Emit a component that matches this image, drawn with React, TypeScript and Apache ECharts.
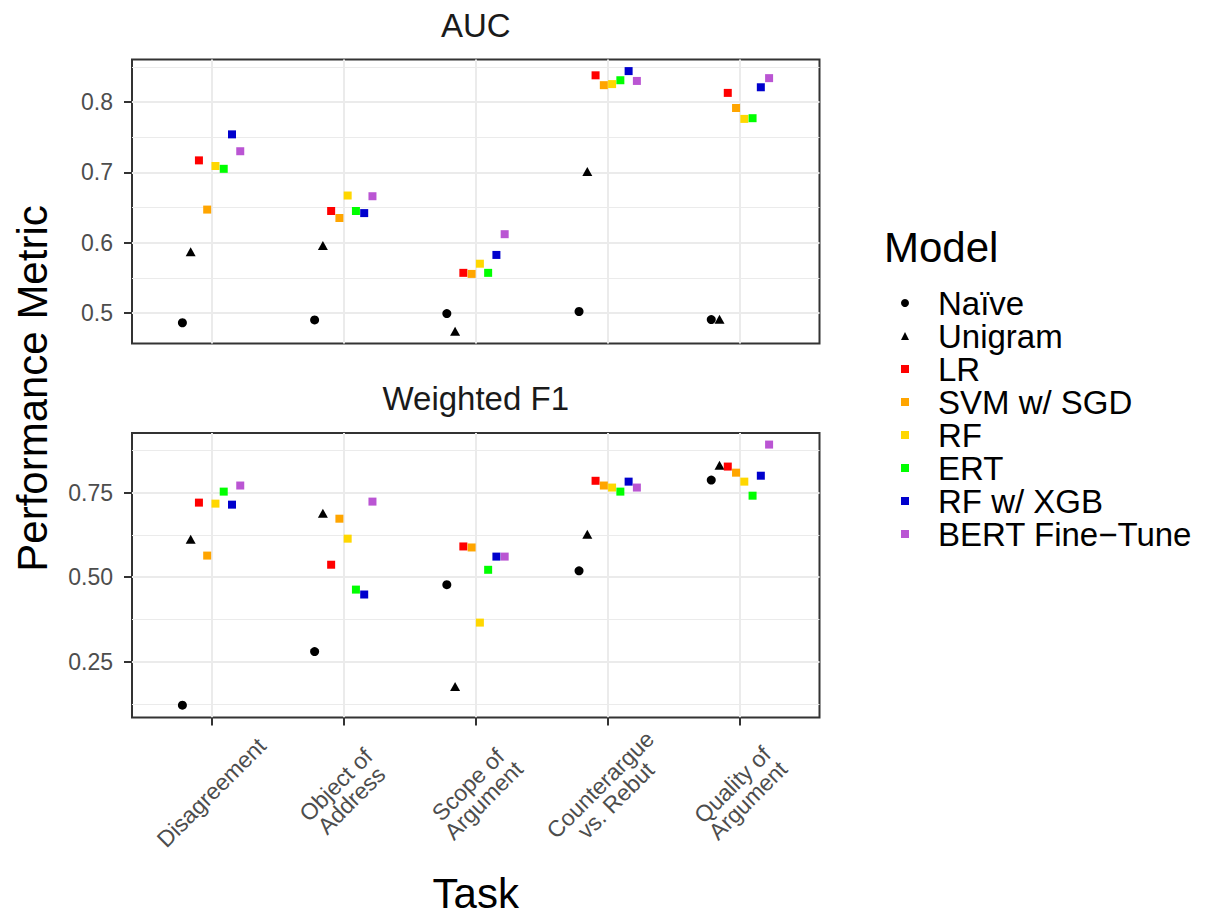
import React, { useEffect, useRef } from "react";
import * as echarts from "echarts";

// ---------- data ----------
const TASKS = [
  "Disagreement",
  "Object of\nAddress",
  "Scope of\nArgument",
  "Counterargue\nvs. Rebut",
  "Quality of\nArgument",
];
const MODELS = ["Naïve", "Unigram", "LR", "SVM w/ SGD", "RF", "ERT", "RF w/ XGB", "BERT Fine−Tune"];
const MODEL_COLORS = ["#000000", "#000000", "#FF0000", "#FFA500", "#FFD700", "#00FF00", "#0000CD", "#BA55D3"];
const MODEL_SYMBOLS = ["circle", "triangle", "rect", "rect", "rect", "rect", "rect", "rect"];

// AUC, one value per task (task order above)
const AUC_NAIVE = [0.486, 0.49, 0.499, 0.502, 0.4905];
const AUC_UNIGRAM = [0.587, 0.596, 0.474, 0.701, 0.491];
const AUC_LR = [0.717, 0.645, 0.557, 0.838, 0.813];
const AUC_SVM = [0.647, 0.635, 0.5555, 0.824, 0.7915];
const AUC_RF = [0.709, 0.667, 0.57, 0.8255, 0.776];
const AUC_ERT = [0.705, 0.645, 0.557, 0.831, 0.777];
const AUC_XGB = [0.754, 0.642, 0.5825, 0.844, 0.821];
const AUC_BERT = [0.73, 0.666, 0.612, 0.83, 0.834];

// Weighted F1, one value per task
const F1_NAIVE = [0.122, 0.2805, 0.478, 0.519, 0.787];
const F1_UNIGRAM = [0.612, 0.689, 0.177, 0.627, 0.831];
const F1_LR = [0.7205, 0.537, 0.591, 0.785, 0.827];
const F1_SVM = [0.564, 0.673, 0.588, 0.771, 0.809];
const F1_RF = [0.7175, 0.614, 0.366, 0.765, 0.7825];
const F1_ERT = [0.753, 0.4635, 0.522, 0.753, 0.741];
const F1_XGB = [0.7145, 0.449, 0.561, 0.7825, 0.8];
const F1_BERT = [0.771, 0.7235, 0.561, 0.765, 0.892];

const AUC_BY_MODEL = [AUC_NAIVE, AUC_UNIGRAM, AUC_LR, AUC_SVM, AUC_RF, AUC_ERT, AUC_XGB, AUC_BERT];
const F1_BY_MODEL = [F1_NAIVE, F1_UNIGRAM, F1_LR, F1_SVM, F1_RF, F1_ERT, F1_XGB, F1_BERT];

const AUC_TICKS = [0.5, 0.6, 0.7, 0.8];
const AUC_MINOR = [0.55, 0.65, 0.75, 0.85];
const F1_TICKS = [0.25, 0.5, 0.75];
const F1_MINOR = [0.125, 0.375, 0.625, 0.875];
const AUC_RANGE = [0.4565, 0.8605];
const F1_RANGE = [0.0856, 0.9262];
const X_RANGE = [0.4, 5.6];
const X_TICKS = [1, 2, 3, 4, 5];

const PANEL_TITLES = ["AUC", "Weighted F1"];
const X_TITLE = "Task";
const Y_TITLE = "Performance Metric";
const LEGEND_TITLE = "Model";

// ---------- style ----------
const FONT = "'Liberation Sans', Arial, Helvetica, sans-serif";
const DODGE_WIDTH = 0.5;
const TICK_FS = 23;
const TICK_LH = 22;
const LEGEND_FS = 33;
const GRID_COLOR = "#EBEBEB";
const BORDER_COLOR = "#333333";
const SYMBOL_SIZES: any[] = [9, [10, 9], 8, 8, 8, 8, 8, 8];

const GRIDS = [
  { left: 132, top: 59.5, width: 687.5, height: 284 },
  { left: 132, top: 433, width: 687.5, height: 284.5 },
];

function mainY(gridIndex: number, range: number[], ticks: number[], digits: number) {
  return {
    type: "value",
    gridIndex,
    min: range[0],
    max: range[1],
    position: "left",
    axisLine: { show: false },
    axisTick: { show: true, length: 8, lineStyle: { color: BORDER_COLOR, width: 2 }, customValues: ticks },
    axisLabel: {
      show: true,
      customValues: ticks,
      formatter: (v: number) => v.toFixed(digits),
      color: "#4D4D4D",
      fontSize: TICK_FS,
      fontFamily: FONT,
      margin: 19,
    },
    splitLine: { show: true, lineStyle: { color: GRID_COLOR, width: 2 } },
  };
}

function minorY(gridIndex: number, range: number[], ticks: number[]) {
  return {
    type: "value",
    gridIndex,
    min: range[0],
    max: range[1],
    position: "right",
    axisLine: { show: false },
    axisTick: { show: false, customValues: ticks },
    axisLabel: { show: false },
    splitLine: { show: true, lineStyle: { color: GRID_COLOR, width: 1 } },
  };
}

function xAxis(gridIndex: number, showTicks: boolean) {
  return {
    type: "value",
    gridIndex,
    min: X_RANGE[0],
    max: X_RANGE[1],
    axisLine: { show: false },
    axisTick: { show: showTicks, length: 8, lineStyle: { color: BORDER_COLOR, width: 2 }, customValues: X_TICKS },
    axisLabel: showTicks
      ? {
          show: true,
          customValues: X_TICKS,
          formatter: (v: number) => TASKS[X_TICKS.indexOf(Math.round(v))] ?? "",
          rotate: 45,
          align: "center",
          verticalAlign: "middle",
          margin: 75,
          color: "#4D4D4D",
          fontSize: TICK_FS,
          fontFamily: FONT,
          lineHeight: TICK_LH,
        }
      : { show: false },
    splitLine: { show: true, lineStyle: { color: GRID_COLOR, width: 2 } },
  };
}

function buildSeries() {
  const out: any[] = [];
  const step = DODGE_WIDTH / MODELS.length;
  MODELS.forEach((m, mi) => {
    [AUC_BY_MODEL[mi], F1_BY_MODEL[mi]].forEach((vals, pi) => {
      out.push({
        type: "scatter",
        name: m,
        xAxisIndex: pi,
        yAxisIndex: pi,
        symbol: MODEL_SYMBOLS[mi],
        symbolSize: SYMBOL_SIZES[mi],
        itemStyle: { color: MODEL_COLORS[mi], opacity: 1 },
        data: vals.map((v, ti) => [X_TICKS[ti] + (mi - (MODELS.length - 1) / 2) * step, v]),
        z: 3,
      });
    });
  });
  return out;
}

function staticGraphics(): any[] {
  const cx = GRIDS[0].left + GRIDS[0].width / 2;
  const midY = (GRIDS[0].top + GRIDS[1].top + GRIDS[1].height) / 2;
  return [
    { type: "text", x: cx, y: 25, style: { text: PANEL_TITLES[0], fontSize: 33, fontFamily: FONT, fill: "#1A1A1A", align: "center", verticalAlign: "middle" } },
    { type: "text", x: cx, y: 398, style: { text: PANEL_TITLES[1], fontSize: 33, fontFamily: FONT, fill: "#1A1A1A", align: "center", verticalAlign: "middle" } },
    { type: "text", x: cx, y: 893, style: { text: X_TITLE, fontSize: 42, fontFamily: FONT, fill: "#000", align: "center", verticalAlign: "middle" } },
    { type: "text", x: 32, y: midY, rotation: Math.PI / 2, style: { text: Y_TITLE, fontSize: 42, fontFamily: FONT, fill: "#000", align: "center", verticalAlign: "middle" } },
    { type: "text", x: 884, y: 247, style: { text: LEGEND_TITLE, fontSize: 42, fontFamily: FONT, fill: "#000", align: "left", verticalAlign: "middle" } },
  ];
}

export default function App() {
  const ref = useRef<HTMLDivElement>(null);
  useEffect(() => {
    if (!ref.current) return;
    const chart = echarts.init(ref.current, null, { renderer: "svg" });
    const option: any = {
      animation: false,
      backgroundColor: "#ffffff",
      grid: GRIDS.map((g) => ({ ...g, show: true, borderColor: BORDER_COLOR, borderWidth: 2, backgroundColor: "transparent", containLabel: false })),
      xAxis: [xAxis(0, false), xAxis(1, true)],
      yAxis: [
        mainY(0, AUC_RANGE, AUC_TICKS, 1),
        mainY(1, F1_RANGE, F1_TICKS, 2),
        minorY(0, AUC_RANGE, AUC_MINOR),
        minorY(1, F1_RANGE, F1_MINOR),
      ],
      legend: {
        orient: "vertical",
        left: 896,
        top: 281.5,
        itemWidth: 8,
        itemHeight: 8,
        itemGap: 0,
        selectedMode: false,
        data: MODELS.map((m, i) => ({ name: m, icon: MODEL_SYMBOLS[i] })),
        formatter: (name: string) => `{t|${name}}`,
        textStyle: {
          color: "#000",
          fontSize: LEGEND_FS,
          fontFamily: FONT,
          lineHeight: 33,
          rich: { t: { fontSize: LEGEND_FS, fontFamily: FONT, color: "#000", lineHeight: 33, padding: [0, 0, 0, 24] } },
        },
      },
      series: buildSeries(),
      graphic: { elements: staticGraphics() },
    };
    chart.setOption(option);
    return () => chart.dispose();
  }, []);
  return <div ref={ref} style={{ position: "fixed", left: 0, top: 0, width: 1207, height: 915 }} />;
}
